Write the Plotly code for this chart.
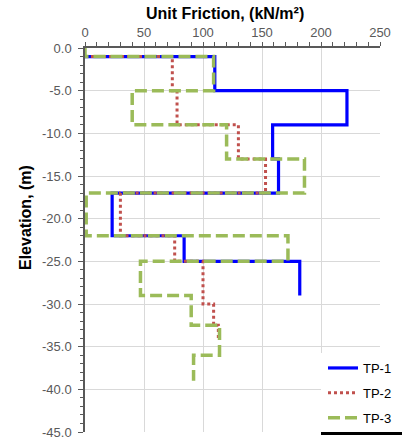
import plotly.graph_objects as go

# Unit friction profiles: layer boundary elevations (m) and friction per layer (kN/m²)
tp1_elev = [-1, -5, -9, -13, -17, -22, -25, -29]
tp1_fric = [110, 222, 159, 164, 23, 84, 182]

tp2_elev = [-1, -5, -9, -13, -17, -22, -25, -30, -32.5, -34]
tp2_fric = [74, 78, 130, 153, 30, 76, 100, 109, 113]

tp3_elev = [0, -1, -5, -9, -13, -17, -22, -25, -29, -32.5, -36, -39]
tp3_fric = [0, 109, 40, 120, 186, 1, 172, 47, 90, 114, 92]

series_names = ["TP-1", "TP-2", "TP-3"]

x_tick_vals = [0, 50, 100, 150, 200, 250]
y_tick_vals = [0, -5, -10, -15, -20, -25, -30, -35, -40, -45]
y_tick_labels = ["0.0", "-5.0", "-10.0", "-15.0", "-20.0", "-25.0",
                 "-30.0", "-35.0", "-40.0", "-45.0"]


def step_profile(elev, fric):
    """Stepped line: starts at zero friction at the top boundary."""
    xs, ys = [0], [elev[0]]
    for i, v in enumerate(fric):
        xs += [v, v]
        ys += [elev[i], elev[i + 1]]
    return xs, ys


W, H = 402, 439
L, R, T, B = 85, 22, 48, 7
pw, ph = W - L - R, H - T - B


def px_x(p):
    return (p - L) / pw


def px_y(p):
    return (H - B - p) / ph


fig = go.Figure()
styles = [
    dict(color="#0000FF", width=3.2, dash="solid"),
    dict(color="#C0504D", width=3, dash="dot"),
    dict(color="#9BBB59", width=3.5, dash="12px,5px"),
]
for name, (e, f), st in zip(series_names,
                            [(tp1_elev, tp1_fric), (tp2_elev, tp2_fric), (tp3_elev, tp3_fric)],
                            styles):
    xs, ys = step_profile(e, f)
    fig.add_trace(go.Scatter(x=xs, y=ys, mode="lines", name=name, line=st,
                             legendgroup=name))

axis_font = dict(family="Liberation Sans, Arial, sans-serif", size=13, color="#595959")

fig.update_xaxes(
    side="top", range=[0, 250], tickvals=x_tick_vals,
    showgrid=True, gridcolor="#D9D9D9", gridwidth=1,
    showline=True, linecolor="#595959", linewidth=1.5,
    ticks="outside", ticklen=4, tickcolor="#595959", tickwidth=1,
    minor=dict(dtick=10, ticks="outside", ticklen=4, tickcolor="#595959", showgrid=False),
    tickfont=axis_font, ticklabelstandoff=0, zeroline=False,
)
fig.update_yaxes(
    range=[-45, 0], tickvals=y_tick_vals, ticktext=y_tick_labels,
    showgrid=True, gridcolor="#D9D9D9", gridwidth=1,
    showline=True, linecolor="#595959", linewidth=1.5,
    ticks="outside", ticklen=5, tickcolor="#595959", tickwidth=1,
    minor=dict(dtick=1, ticks="outside", ticklen=3, tickcolor="#595959", showgrid=False),
    tickfont=axis_font, ticklabelstandoff=4, zeroline=False,
    ticklabeloverflow="allow",
)

title_font = dict(family="Liberation Sans, Arial, sans-serif", size=16, color="#000000")
fig.add_annotation(text="<b>Unit Friction, (kN/m²)</b>", xref="paper", yref="paper",
                   x=px_x(225), y=px_y(13), xanchor="center", yanchor="middle",
                   showarrow=False, font=title_font)
fig.add_annotation(text="<b>Elevation, (m)</b>", xref="paper", yref="paper",
                   x=px_x(25), y=px_y(217), xanchor="center", yanchor="middle",
                   textangle=-90, showarrow=False, font=title_font)

# legend panel: white fill over the grid, with a dark bottom edge
fig.add_shape(type="rect", xref="paper", yref="paper", layer="above",
              x0=px_x(321), x1=px_x(403), y0=px_y(432), y1=px_y(353),
              fillcolor="white", line=dict(width=0))
fig.add_shape(type="line", xref="paper", yref="paper", layer="above",
              x0=px_x(321), x1=px_x(403), y0=px_y(433.5), y1=px_y(433.5),
              line=dict(color="#000000", width=3))

fig.update_layout(
    width=W, height=H,
    margin=dict(l=L, r=R, t=T, b=B, autoexpand=False),
    paper_bgcolor="white", plot_bgcolor="white",
    showlegend=True,
    legend=dict(x=px_x(323), y=px_y(353), xanchor="left", yanchor="top",
                bgcolor="rgba(255,255,255,0)", borderwidth=0, tracegroupgap=5,
                traceorder="grouped",
                font=dict(family="Liberation Sans, Arial, sans-serif", size=13, color="#000000"),
                itemwidth=30),
)

fig.write_html("out.html")
